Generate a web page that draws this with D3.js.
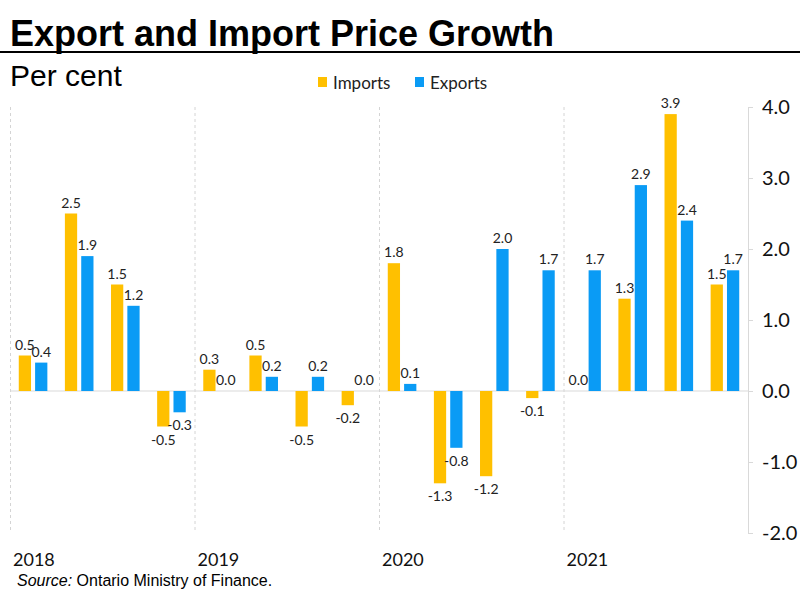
<!DOCTYPE html>
<html>
<head>
<meta charset="utf-8">
<script src="https://cdn.jsdelivr.net/npm/d3@7"></script>
<style>
  body { margin: 0; background: #fff; }
  svg { display: block; }
</style>
</head>
<body>
<svg id="chart" width="800" height="600"></svg>
<script>
// quarterly price growth, per cent
const quarters = ["2018Q1", "2018Q2", "2018Q3", "2018Q4",
                  "2019Q1", "2019Q2", "2019Q3", "2019Q4",
                  "2020Q1", "2020Q2", "2020Q3", "2020Q4",
                  "2021Q1", "2021Q2", "2021Q3", "2021Q4"];
const imports = [0.5, 2.5, 1.5, -0.5, 0.3, 0.5, -0.5, -0.2, 1.8, -1.3, -1.2, -0.1, 0.0, 1.3, 3.9, 1.5];
const exports = [0.4, 1.9, 1.2, -0.3, 0.0, 0.2, 0.2, 0.0, 0.1, -0.8, 2.0, 1.7, 1.7, 2.9, 2.4, 1.7];
const years = ["2018", "2019", "2020", "2021"];
const yTicks = [-2, -1, 0, 1, 2, 3, 4];
const seriesNames = ["Imports", "Exports"];
const colors = { Imports: "#FFC000", Exports: "#0A9BF5" };

const svg = d3.select("#chart");

const plotLeft = 10, plotRight = 748, plotTop = 107, plotBottom = 533;

// plain hyphen for negatives, like the original
const fmt = v => d3.format(".1f")(v).replace("\u2212", "-");

const x0 = d3.scaleBand()
    .domain(quarters)
    .range([plotLeft, plotRight])
    .paddingInner(0.38)
    .paddingOuter(0.19);

const x1 = d3.scaleBand()
    .domain(seriesNames)
    .range([0, x0.bandwidth()])
    .paddingInner(0.25);

const y = d3.scaleLinear()
    .domain([-2, 4])
    .range([plotBottom, plotTop]);

const yearX = d3.scaleBand()
    .domain(years)
    .range([plotLeft, plotRight]);

// title
svg.append("text")
    .attr("x", 10).attr("y", 46)
    .attr("font-family", "Liberation Sans, Arial, sans-serif")
    .attr("font-weight", "bold")
    .attr("font-size", 36)
    .text("Export and Import Price Growth");

svg.append("line")
    .attr("x1", 0).attr("x2", 800)
    .attr("y1", 52).attr("y2", 52)
    .attr("stroke", "#000").attr("stroke-width", 2);

svg.append("text")
    .attr("x", 10).attr("y", 86)
    .attr("font-family", "Liberation Sans, Arial, sans-serif")
    .attr("font-size", 30)
    .text("Per cent");

// legend
const legend = svg.append("g").attr("font-family", "Lato, Open Sans, sans-serif").attr("font-size", 17);
const legendX = { Imports: 318, Exports: 415 };
seriesNames.forEach(s => {
    legend.append("rect")
        .attr("x", legendX[s]).attr("y", 77)
        .attr("width", 9).attr("height", 10)
        .attr("fill", colors[s]);
    legend.append("text")
        .attr("x", legendX[s] + 15).attr("y", 89)
        .attr("fill", "#222")
        .text(s);
});

// year separators
svg.append("g")
    .selectAll("line")
    .data(years)
    .join("line")
    .attr("x1", d => yearX(d) + 0.5)
    .attr("x2", d => yearX(d) + 0.5)
    .attr("y1", plotTop)
    .attr("y2", plotBottom)
    .attr("stroke", "#d4d4d4")
    .attr("stroke-dasharray", "3,3");

svg.append("g")
    .selectAll("text")
    .data(years)
    .join("text")
    .attr("x", d => yearX(d) + 3)
    .attr("y", 566)
    .attr("font-family", "Lato, Open Sans, sans-serif")
    .attr("font-size", 18)
    .attr("fill", "#111")
    .text(d => d);

// zero line
svg.append("line")
    .attr("x1", plotLeft).attr("x2", plotRight)
    .attr("y1", y(0)).attr("y2", y(0))
    .attr("stroke", "#d9d9d9");

// right axis
const axis = svg.append("g")
    .attr("transform", `translate(${plotRight},0)`)
    .call(d3.axisRight(y).tickValues(yTicks).tickFormat(fmt).tickSize(5).tickPadding(9));
axis.select(".domain").attr("stroke", "#d9d9d9");
axis.selectAll(".tick line").attr("stroke", "#d9d9d9");
axis.selectAll(".tick text")
    .attr("font-family", "Lato, Open Sans, sans-serif")
    .attr("font-size", 20)
    .attr("fill", "#111");

// bars
const rows = quarters.map((q, i) => ({
    q,
    vals: [{ s: "Imports", v: imports[i] }, { s: "Exports", v: exports[i] }]
}));

const groups = svg.append("g")
    .selectAll("g")
    .data(rows)
    .join("g")
    .attr("transform", d => `translate(${x0(d.q)},0)`);

groups.selectAll("rect")
    .data(d => d.vals)
    .join("rect")
    .attr("x", d => x1(d.s))
    .attr("width", x1.bandwidth())
    .attr("y", d => y(Math.max(0, d.v)))
    .attr("height", d => Math.abs(y(d.v) - y(0)))
    .attr("fill", d => colors[d.s]);

groups.selectAll("text")
    .data(d => d.vals)
    .join("text")
    .attr("x", d => x1(d.s) + x1.bandwidth() / 2)
    .attr("y", d => d.v < 0 ? y(d.v) + 18 : y(d.v) - 6)
    .attr("text-anchor", "middle")
    .attr("font-family", "Lato, Open Sans, sans-serif")
    .attr("font-size", 14)
    .attr("fill", "#222")
    .text(d => fmt(d.v));

// source
const src = svg.append("text")
    .attr("x", 17).attr("y", 586)
    .attr("font-family", "Liberation Sans, Arial, sans-serif")
    .attr("font-size", 16);
src.append("tspan").attr("font-style", "italic").text("Source:");
src.append("tspan").text(" Ontario Ministry of Finance.");
</script>
</body>
</html>
